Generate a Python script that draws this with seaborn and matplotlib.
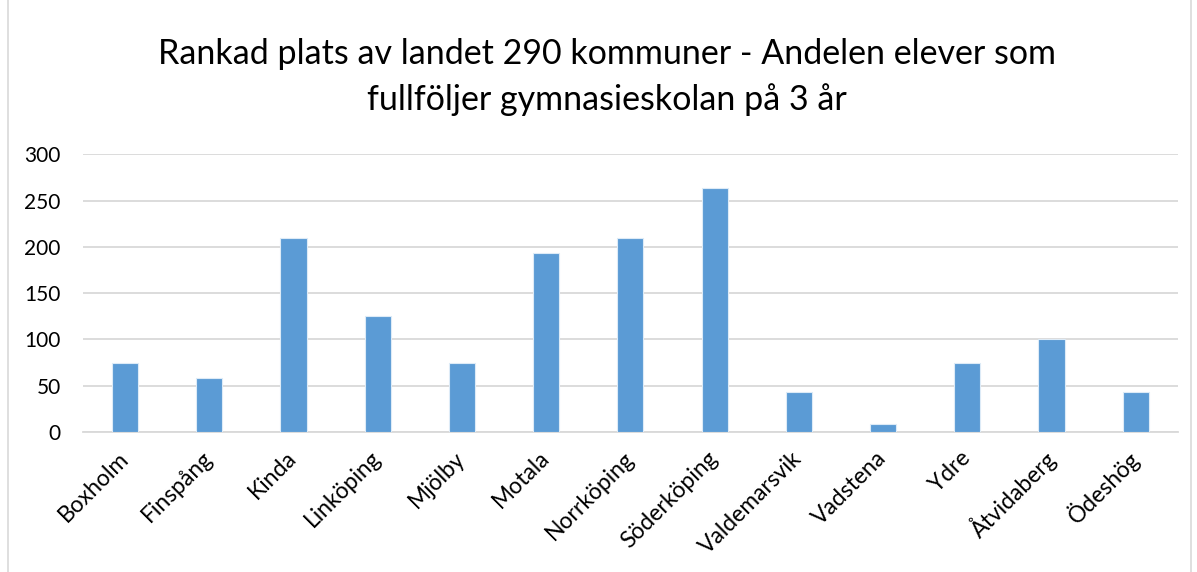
import matplotlib
matplotlib.use("Agg")
import matplotlib.pyplot as plt
import seaborn as sns
import pandas as pd
from matplotlib.patches import Rectangle

# data
kommuner = [
    "Boxholm", "Finspång", "Kinda", "Linköping", "Mjölby", "Motala",
    "Norrköping", "Söderköping", "Valdemarsvik", "Vadstena", "Ydre",
    "Åtvidaberg", "Ödeshög",
]
plats = [75, 58, 210, 125, 75, 193, 210, 264, 43, 9, 75, 100, 43]
y_ticks = [0, 50, 100, 150, 200, 250, 300]

df = pd.DataFrame({"kommun": kommuner, "plats": plats})

sns.set_theme(style="white")
plt.rcParams["font.family"] = ["Lato", "DejaVu Sans"]

fig = plt.figure(figsize=(11.97, 5.72), dpi=100)
ax = fig.add_axes([0.0693, 0.2448, 0.9147, 0.4852])

sns.barplot(
    data=df, x="kommun", y="plats", color="#5B9BD5", saturation=1,
    width=0.31, edgecolor="#DDEBF7", linewidth=0.8, ax=ax, zorder=3,
)

ax.set_ylim(0, 300)
ax.set_yticks(y_ticks)
ax.set_xlim(-0.5, len(kommuner) - 0.5)
ax.yaxis.grid(True, color="#D9D9D9", linewidth=1.3, zorder=0)
ax.set_axisbelow(True)
for side in ["top", "right", "left"]:
    ax.spines[side].set_visible(False)
ax.spines["bottom"].set_color("#D9D9D9")
ax.spines["bottom"].set_linewidth(1.3)
ax.set_xlabel("")
ax.set_ylabel("")
ax.tick_params(axis="y", length=0, pad=16, labelsize=15, labelcolor="#000000")
ax.tick_params(axis="x", length=0, pad=16.5, labelsize=16.5, labelcolor="#000000")
plt.setp(ax.get_xticklabels(), rotation=45, ha="right", va="center",
         rotation_mode="anchor")

fig.text(0.507, 0.905, "Rankad plats av landet 290 kommuner - Andelen elever som",
         ha="center", va="center", fontsize=24.5, color="#000000")
fig.text(0.507, 0.826, "fullföljer gymnasieskolan på 3 år",
         ha="center", va="center", fontsize=24.5, color="#000000")

# thin frame round the chart area
fig.patches.append(Rectangle((0.0067, -0.01), 0.988, 1.02, transform=fig.transFigure,
                             fill=False, edgecolor="#D9D9D9", linewidth=1.2))

fig.savefig("out.png", dpi=100)
